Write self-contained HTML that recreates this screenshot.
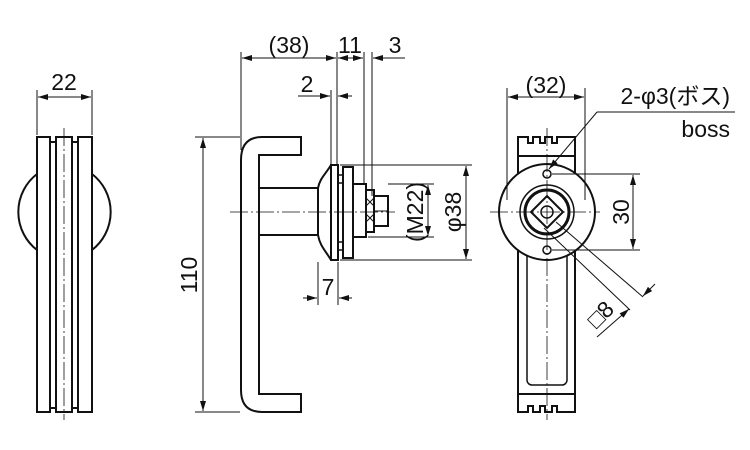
<!DOCTYPE html>
<html><head><meta charset="utf-8"><style>
html,body{margin:0;padding:0;background:#fff;}
svg{display:block}
text{font-family:"Liberation Sans","Noto Sans CJK JP",sans-serif;fill:#111;}
</style></head><body>
<svg width="750" height="450" viewBox="0 0 750 450" xmlns="http://www.w3.org/2000/svg">
<defs>
<marker id="a" viewBox="0 0 10 6" refX="10" refY="3" markerWidth="10" markerHeight="6" orient="auto-start-reverse" markerUnits="userSpaceOnUse"><path d="M0,0 L10,3 L0,6 z" fill="#111"/></marker>
</defs>
<g fill="none" stroke="#111" stroke-width="1">
<path d="M37,174 A48,48 0 0 0 37,250" stroke-width="2"/>
<path d="M92,174 A48,48 0 0 1 92,250" stroke-width="2"/>
<g stroke-width="2" fill="#fff">
<rect x="50" y="142" width="6" height="266"/>
<rect x="72" y="142" width="6" height="266"/>
<rect x="37" y="137" width="13" height="275"/>
<rect x="56" y="137" width="16" height="275"/>
<rect x="78" y="137" width="14" height="275"/>
</g>
<line x1="64" y1="128" x2="64" y2="420" stroke-dasharray="18,3,2,3" stroke-width="0.8"/>
<line x1="37" y1="90" x2="37" y2="135"/><line x1="92" y1="90" x2="92" y2="135"/>
<line x1="38" y1="97" x2="91" y2="97" marker-start="url(#a)" marker-end="url(#a)"/>

<path d="M301,137 H262 Q241,137 241,160 V390 Q241,412 262,412 H301 V394 H259 V155 H301 Z" stroke-width="2"/>
<path d="M259,188 H318 M259,235 H318" stroke-width="2"/>
<path d="M331,165 C325,175 320,178 318,188 V235 C320,246 325,250 331,260" stroke-width="2"/>
<rect x="331" y="165" width="7" height="95" stroke-width="2"/>
<rect x="343" y="167" width="10" height="91" stroke-width="2"/>
<rect x="338" y="175" width="5" height="8" stroke-width="1.5"/>
<rect x="338" y="242" width="5" height="8" stroke-width="1.5"/>
<rect x="353" y="184" width="13" height="53" stroke-width="2"/>
<rect x="366" y="190" width="8" height="42" stroke-width="2"/>
<path d="M366,198 L374,206 M374,198 L366,206 M366,214 L374,222 M374,214 L366,222"/>
<rect x="374" y="196" width="14" height="30" stroke-width="2"/>
<line x1="374" y1="211" x2="388" y2="211"/>
<line x1="230" y1="212" x2="395" y2="212" stroke-dasharray="18,3,2,3" stroke-width="0.8"/>
<line x1="241" y1="52" x2="241" y2="150"/>
<line x1="337" y1="52" x2="337" y2="165"/>
<line x1="331" y1="90" x2="331" y2="165"/>
<line x1="364" y1="52" x2="364" y2="184"/>
<line x1="372" y1="52" x2="372" y2="196"/>
<line x1="242" y1="58" x2="336" y2="58" marker-start="url(#a)" marker-end="url(#a)"/>
<line x1="338" y1="58" x2="363" y2="58" marker-start="url(#a)" marker-end="url(#a)"/>
<line x1="405" y1="58" x2="373" y2="58" marker-end="url(#a)"/>
<line x1="298" y1="96" x2="330" y2="96" marker-end="url(#a)"/>
<line x1="352" y1="96" x2="338" y2="96" marker-end="url(#a)"/>
<line x1="318" y1="262" x2="318" y2="305"/>
<line x1="338" y1="262" x2="338" y2="305"/>
<line x1="303" y1="298" x2="317" y2="298" marker-end="url(#a)"/>
<line x1="352" y1="298" x2="339" y2="298" marker-end="url(#a)"/>
<line x1="195" y1="137" x2="240" y2="137"/><line x1="195" y1="412" x2="240" y2="412"/>
<line x1="203" y1="138" x2="203" y2="411" marker-start="url(#a)" marker-end="url(#a)"/>
<line x1="340" y1="165" x2="472" y2="165"/><line x1="340" y1="260" x2="472" y2="260"/>
<line x1="466" y1="166" x2="466" y2="259" marker-start="url(#a)" marker-end="url(#a)"/>
<line x1="388" y1="184" x2="434" y2="184"/><line x1="368" y1="237" x2="434" y2="237"/>
<line x1="428" y1="185" x2="428" y2="236" marker-start="url(#a)" marker-end="url(#a)"/>

<path d="M518,137 H528 V143 H533 V137 H540 V143 H545 V137 H552 V143 H557 V137 H575 V412 H557 V406 H552 V412 H545 V406 H540 V412 H533 V406 H528 V412 H518 Z" stroke-width="2"/>
<line x1="518" y1="156" x2="575" y2="156" stroke-width="2"/>
<line x1="518" y1="394" x2="575" y2="394" stroke-width="2"/>
<rect x="527" y="250" width="40" height="135" rx="5" stroke-width="1.5"/>
<circle cx="547" cy="212" r="48" stroke-width="2" fill="#fff"/>
<circle cx="547" cy="212" r="27" stroke-width="1.5"/>
<circle cx="547" cy="212" r="22" stroke-width="3"/>
<path d="M547,196 L563,212 L547,228 L531,212 Z" stroke-width="2"/>
<circle cx="547" cy="212" r="6" stroke-width="1.5"/>
<circle cx="547" cy="174" r="4" stroke-width="1.5"/>
<circle cx="547" cy="250" r="4" stroke-width="1.5"/>
<line x1="547" y1="128" x2="547" y2="420" stroke-dasharray="18,3,2,3" stroke-width="0.8"/>
<line x1="490" y1="212" x2="600" y2="212" stroke-dasharray="18,3,2,3" stroke-width="0.8"/>
<line x1="507" y1="88" x2="507" y2="200"/><line x1="585" y1="88" x2="585" y2="200"/>
<line x1="508" y1="97" x2="584" y2="97" marker-start="url(#a)" marker-end="url(#a)"/>
<line x1="552" y1="174" x2="640" y2="174"/><line x1="552" y1="250" x2="640" y2="250"/>
<line x1="633" y1="175" x2="633" y2="249" marker-start="url(#a)" marker-end="url(#a)"/>
<line x1="549" y1="169" x2="597" y2="112" marker-start="url(#a)"/>
<line x1="597" y1="112" x2="735" y2="112"/>
<line x1="556" y1="222" x2="643" y2="297"/>
<line x1="544" y1="228" x2="630" y2="310"/>
<line x1="597" y1="337" x2="629" y2="309" marker-end="url(#a)"/>
<line x1="655" y1="284" x2="643" y2="296" marker-end="url(#a)"/>
</g>
<g font-size="23">
<text x="64" y="90" text-anchor="middle">22</text>
<text x="289" y="53" text-anchor="middle">(38)</text>
<text x="350" y="53" text-anchor="middle">11</text>
<text x="395" y="53" text-anchor="middle">3</text>
<text x="307" y="92" text-anchor="middle">2</text>
<text x="328" y="295" text-anchor="middle">7</text>
<text x="546" y="93" text-anchor="middle">(32)</text>
<text transform="translate(197,275) rotate(-90)" text-anchor="middle">110</text>
<text transform="translate(461,212) rotate(-90)" text-anchor="middle">φ38</text>
<text transform="translate(423,212) rotate(-90)" text-anchor="middle">(M22)</text>
<text transform="translate(629,212) rotate(-90)" text-anchor="middle">30</text>
<text transform="translate(606,320) rotate(-45)" text-anchor="middle">□8</text>
<text x="730" y="104" text-anchor="end">2-φ3(ボス)</text>
<text x="730" y="137" text-anchor="end">boss</text>
</g>
</svg>
</body></html>
